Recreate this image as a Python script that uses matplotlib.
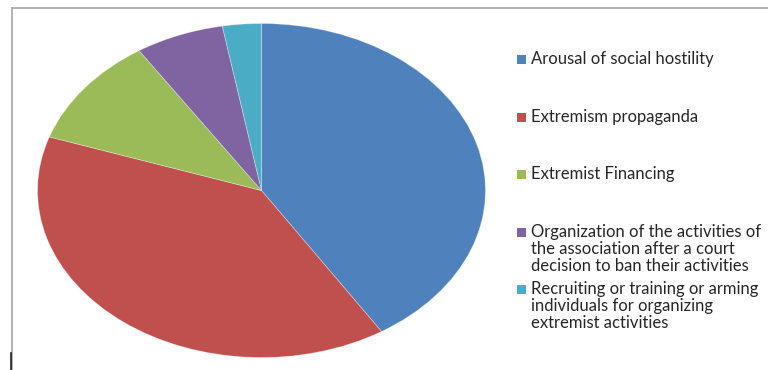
import matplotlib
matplotlib.use("Agg")
import matplotlib.pyplot as plt
from matplotlib.patches import Rectangle
from matplotlib.lines import Line2D

categories = [
    "Arousal of social hostility",
    "Extremism propaganda",
    "Extremist Financing",
    "Organization of the activities of\nthe association after a court\ndecision to ban their activities",
    "Recruiting or training or arming\nindividuals for organizing\nextremist activities",
]
values = [41.0, 39.2, 10.6, 6.4, 2.8]
colors = ["#4F81BD", "#C0504D", "#9BBB59", "#8064A2", "#4BACC6"]

W, H = 768, 370
fig = plt.figure(figsize=(W / 100, H / 100), dpi=100)
fig.patch.set_facecolor("white")

cx, cy, rx, ry = 261.5, 190.5, 224, 167
ax = fig.add_axes([(cx - rx) / W, (H - cy - ry) / H, 2 * rx / W, 2 * ry / H])
ax.pie(values, colors=colors, startangle=90, counterclock=False,
       wedgeprops=dict(edgecolor=(1, 1, 1, 0.35), linewidth=0.6))
ax.set_aspect("auto")
ax.set_xlim(-1, 1)
ax.set_ylim(-1, 1)
ax.axis("off")

# frame lines
fig.add_artist(Line2D([12 / W, 1], [1 - 8 / H, 1 - 8 / H], color="#A6A6A6", lw=1.2, transform=fig.transFigure))
fig.add_artist(Line2D([12 / W, 12 / W], [0, 1 - 8 / H], color="#A6A6A6", lw=1.2, transform=fig.transFigure))
fig.add_artist(Line2D([11 / W, 11 / W], [0, 1 - 353 / H], color="#202020", lw=1.2, transform=fig.transFigure))

# legend
row_y = [59, 117, 174, 232, 289]
line_h = 16.8
for lab, col, y in zip(categories, colors, row_y):
    fig.add_artist(Rectangle((517 / W, 1 - (y + 4.5) / H), 9 / W, 9 / H,
                             facecolor=col, edgecolor="none", transform=fig.transFigure))
    lines = lab.split("\n")
    for i, ln in enumerate(lines):
        fig.text(531 / W, 1 - (y + i * line_h) / H, ln, ha="left", va="center",
                 fontsize=12, family="Lato", color="#262626")

fig.savefig("out.png", dpi=100)
